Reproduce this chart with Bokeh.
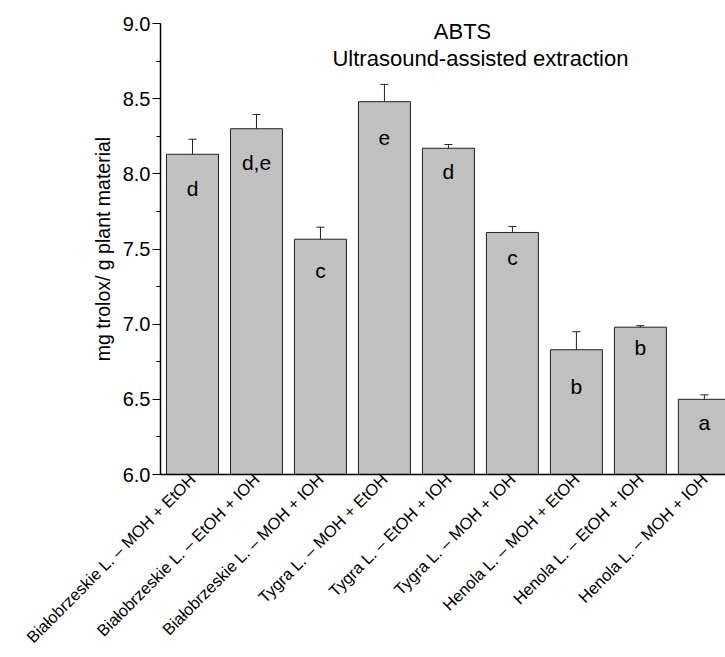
import math
from bokeh.plotting import figure
from bokeh.models import ColumnDataSource, Whisker, FixedTicker, SingleIntervalTicker, PrintfTickFormatter, Range1d, TeeHead
from bokeh.core.properties import value
from bokeh.embed import file_html
from bokeh.resources import INLINE

categories = [
    "Białobrzeskie L. – MOH + EtOH",
    "Białobrzeskie L. – EtOH + IOH",
    "Białobrzeskie L. – MOH + IOH",
    "Tygra L. – MOH + EtOH",
    "Tygra L. – EtOH + IOH",
    "Tygra L. – MOH + IOH",
    "Henola L. – MOH + EtOH",
    "Henola L. – EtOH + IOH",
    "Henola L. – MOH + IOH",
]
means = [8.13, 8.30, 7.565, 8.48, 8.17, 7.61, 6.83, 6.98, 6.50]
errors = [0.10, 0.095, 0.08, 0.115, 0.025, 0.04, 0.12, 0.01, 0.03]
letters = ["d", "d,e", "c", "e", "d", "c", "b", "b", "a"]
title_main = "ABTS"
title_sub = "Ultrasound-assisted extraction"
y_label = "mg trolox/ g plant material"

FONT = "Liberation Sans"
xs = list(range(1, len(categories) + 1))
src = ColumnDataSource(dict(
    x=xs,
    top=means,
    upper=[m + e for m, e in zip(means, errors)],
    lower=[m - e for m, e in zip(means, errors)],
    letter=letters,
))

p = figure(width=725, height=657, output_backend="svg", toolbar_location=None,
           x_range=Range1d(0.5, 9.33), y_range=Range1d(6.0, 9.0),
           min_border_left=160, min_border_right=0, min_border_top=23, min_border_bottom=183)
p.outline_line_color = None
p.xgrid.visible = False
p.ygrid.visible = False
p.background_fill_color = "white"
p.border_fill_color = "white"

p.vbar(x="x", top="top", bottom=6.0, width=0.8125, source=src,
       fill_color="#c0c0c0", line_color="#222222", line_width=1)

w = Whisker(base="x", upper="upper", lower="lower", source=src,
            line_color="#222222", line_width=1,
            upper_head=TeeHead(size=8, line_color="#222222", line_width=1),
            lower_head=TeeHead(size=8, line_color="#222222", line_width=1))
p.add_layout(w)

p.text(x="x", y="lower", text="letter", source=src, text_align="center",
       text_baseline="middle", y_offset=19, text_font=value(FONT),
       text_font_size="21px", text_color="black")

p.text(x=[5.22], y=[8.947], text=[title_main], text_align="center",
       text_baseline="middle", text_font=value(FONT), text_font_size="22px",
       text_color="black")
p.text(x=[5.5], y=[8.767], text=[title_sub], text_align="center",
       text_baseline="middle", text_font=value(FONT), text_font_size="22px",
       text_color="black")

# y axis
ya = p.yaxis[0]
ya.ticker = SingleIntervalTicker(interval=0.5, num_minor_ticks=2)
ya.formatter = PrintfTickFormatter(format="%.1f")
ya.axis_label = y_label
ya.axis_label_text_font = FONT
ya.axis_label_text_font_size = "19.5px"
ya.axis_label_text_font_style = "normal"
ya.axis_label_text_color = "black"
ya.axis_label_standoff = 6
ya.major_label_text_font = FONT
ya.major_label_text_font_size = "20px"
ya.major_label_text_color = "black"
ya.major_label_standoff = 2
ya.major_tick_out = 8
ya.major_tick_in = 0
ya.minor_tick_out = 4
ya.minor_tick_in = 0
ya.axis_line_width = 1.5
ya.axis_line_color = "black"
ya.major_tick_line_color = "black"
ya.minor_tick_line_color = "black"

# x axis
xa = p.xaxis[0]
xa.ticker = FixedTicker(ticks=xs)
xa.major_label_overrides = {i: c for i, c in zip(xs, categories)}
xa.major_label_orientation = math.pi / 4
xa.major_label_text_font = FONT
xa.major_label_text_font_size = "16.4px"
xa.major_label_text_line_height = 1.0
xa.major_label_text_color = "black"
xa.major_label_standoff = 2
xa.major_tick_out = 0
xa.major_tick_in = 0
xa.minor_tick_out = 0
xa.minor_tick_in = 0
xa.major_tick_line_color = None
xa.minor_tick_line_color = None
xa.axis_line_width = 1.5
xa.axis_line_color = "black"

open("out.html", "w").write(file_html(p, INLINE))
